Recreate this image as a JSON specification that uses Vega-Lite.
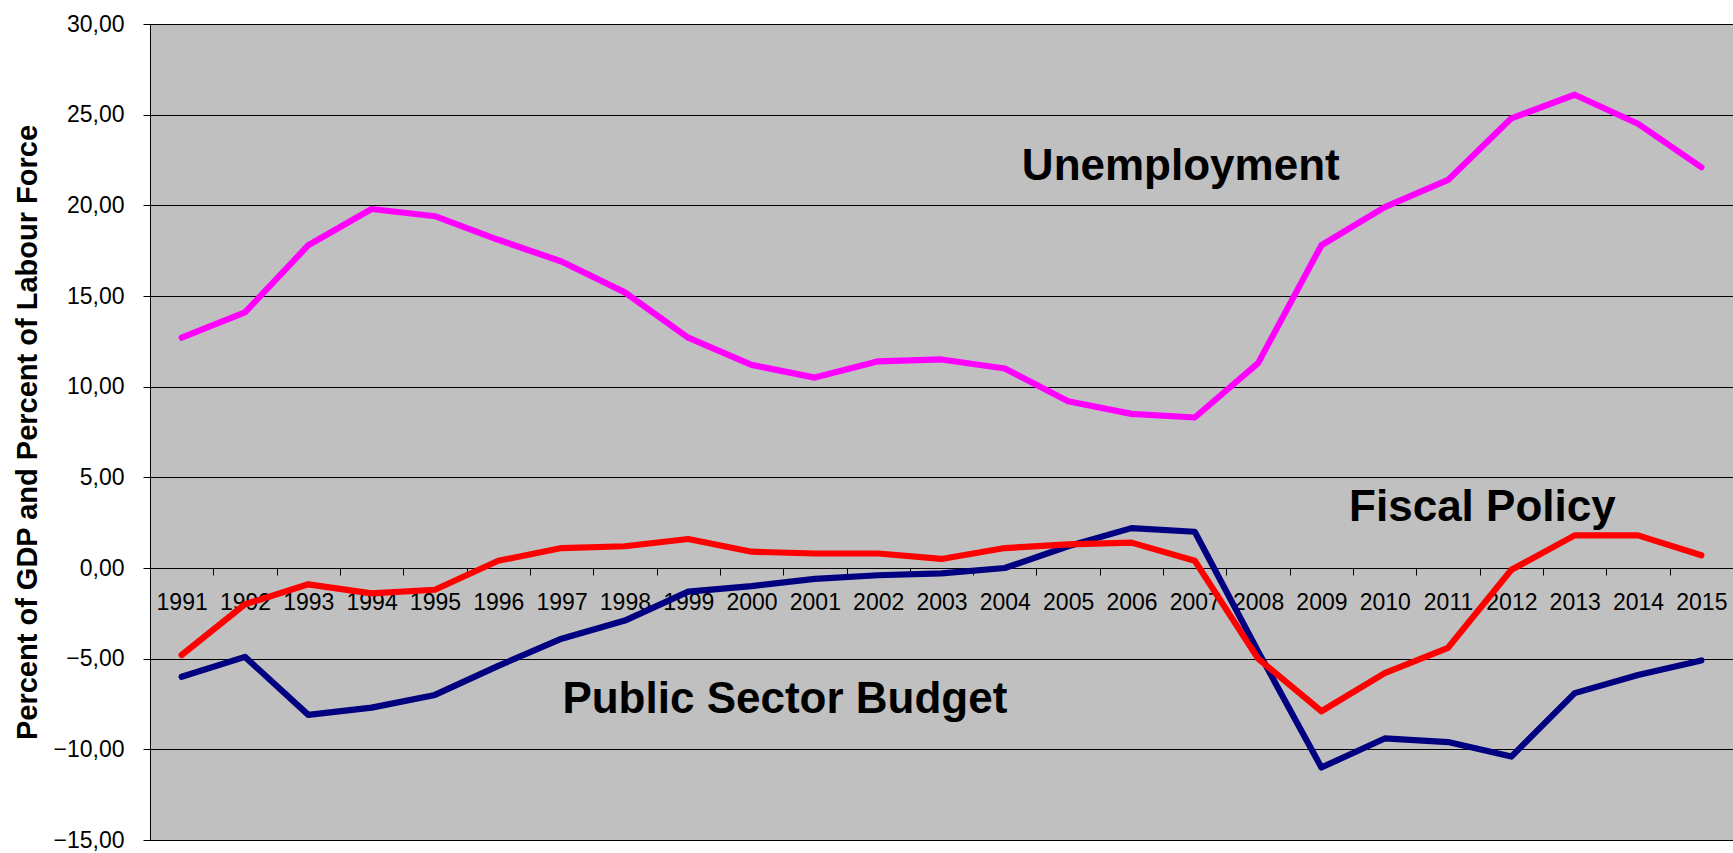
{
  "$schema": "https://vega.github.io/schema/vega-lite/v6.json",
  "width": 1583,
  "height": 816,
  "autosize": {"type": "none"},
  "padding": {"left": 150, "top": 24, "right": 0, "bottom": 13},
  "background": "white",
  "config": {
    "view": {"fill": "#c0c0c0", "stroke": "#808080", "strokeWidth": 1},
    "font": "Liberation Sans",
    "axis": {
      "labelFont": "Liberation Sans",
      "labelFontSize": 23,
      "labelColor": "#000000",
      "tickColor": "#000000",
      "domainColor": "#000000",
      "tickSize": 7,
      "titleFont": "Liberation Sans",
      "titleFontSize": 29,
      "titleFontWeight": "bold",
      "titleColor": "#000000"
    },
    "axisY": {
      "grid": true,
      "gridColor": "#000000",
      "gridWidth": 1,
      "gridOpacity": 1,
      "labelPadding": 19,
      "titlePadding": 11
    },
    "axisX": {"grid": false}
  },
  "datasets": {
    "series": [
      {"year": 1991, "unemployment": 12.7, "fiscal": -4.8, "budget": -6.0},
      {"year": 1992, "unemployment": 14.1, "fiscal": -2.0, "budget": -4.9},
      {"year": 1993, "unemployment": 17.8, "fiscal": -0.9, "budget": -8.1},
      {"year": 1994, "unemployment": 19.8, "fiscal": -1.4, "budget": -7.7},
      {"year": 1995, "unemployment": 19.4, "fiscal": -1.2, "budget": -7.0},
      {"year": 1996, "unemployment": 18.1, "fiscal": 0.4, "budget": -5.4},
      {"year": 1997, "unemployment": 16.9, "fiscal": 1.1, "budget": -3.9},
      {"year": 1998, "unemployment": 15.2, "fiscal": 1.2, "budget": -2.9},
      {"year": 1999, "unemployment": 12.7, "fiscal": 1.6, "budget": -1.3},
      {"year": 2000, "unemployment": 11.2, "fiscal": 0.9, "budget": -1.0},
      {"year": 2001, "unemployment": 10.5, "fiscal": 0.8, "budget": -0.6},
      {"year": 2002, "unemployment": 11.4, "fiscal": 0.8, "budget": -0.4},
      {"year": 2003, "unemployment": 11.5, "fiscal": 0.5, "budget": -0.3},
      {"year": 2004, "unemployment": 11.0, "fiscal": 1.1, "budget": 0.0},
      {"year": 2005, "unemployment": 9.2, "fiscal": 1.3, "budget": 1.2},
      {"year": 2006, "unemployment": 8.5, "fiscal": 1.4, "budget": 2.2},
      {"year": 2007, "unemployment": 8.3, "fiscal": 0.4, "budget": 2.0},
      {"year": 2008, "unemployment": 11.3, "fiscal": -5.0, "budget": -4.6},
      {"year": 2009, "unemployment": 17.8, "fiscal": -7.9, "budget": -11.0},
      {"year": 2010, "unemployment": 19.9, "fiscal": -5.8, "budget": -9.4},
      {"year": 2011, "unemployment": 21.4, "fiscal": -4.4, "budget": -9.6},
      {"year": 2012, "unemployment": 24.8, "fiscal": -0.1, "budget": -10.4},
      {"year": 2013, "unemployment": 26.1, "fiscal": 1.8, "budget": -6.9},
      {"year": 2014, "unemployment": 24.5, "fiscal": 1.8, "budget": -5.9},
      {"year": 2015, "unemployment": 22.1, "fiscal": 0.7, "budget": -5.1}
    ]
  },
  "encoding": {
    "x": {
      "field": "year",
      "type": "ordinal",
      "scale": {"type": "band", "paddingInner": 0, "paddingOuter": 0},
      "axis": {
        "title": null,
        "labelAngle": 0,
        "tickBand": "extent",
        "offset": {"expr": "scale('y', 0) - height"},
        "labelPadding": 16
      }
    }
  },
  "layer": [
    {
      "data": {"name": "series"},
      "mark": {"type": "line", "color": "#000080", "strokeWidth": 6.2, "strokeCap": "round", "strokeJoin": "round"},
      "encoding": {
        "y": {
          "field": "budget",
          "type": "quantitative",
          "title": "Percent of GDP and Percent of Labour Force",
          "scale": {"domain": [-15, 30], "nice": false, "zero": false},
          "axis": {
            "values": [-15, -10, -5, 0, 5, 10, 15, 20, 25, 30],
            "labelExpr": "replace(format(datum.value, '.2f'), '.', ',')"
          }
        }
      }
    },
    {
      "data": {"name": "series"},
      "mark": {"type": "line", "color": "#ff0000", "strokeWidth": 6.2, "strokeCap": "round", "strokeJoin": "round"},
      "encoding": {
        "y": {"field": "fiscal", "type": "quantitative", "title": "Percent of GDP and Percent of Labour Force"}
      }
    },
    {
      "data": {"name": "series"},
      "mark": {"type": "line", "color": "#ff00ff", "strokeWidth": 6.2, "strokeCap": "round", "strokeJoin": "round"},
      "encoding": {
        "y": {"field": "unemployment", "type": "quantitative", "title": "Percent of GDP and Percent of Labour Force"}
      }
    },
    {
      "data": {"values": [{"label": "Unemployment", "year": 2007, "value": 21.4}]},
      "mark": {"type": "text", "font": "Liberation Sans", "fontSize": 44, "fontWeight": "bold", "color": "#000000", "baseline": "alphabetic", "align": "center", "dx": -14},
      "encoding": {
        "text": {"field": "label"},
        "y": {"field": "value", "type": "quantitative", "title": "Percent of GDP and Percent of Labour Force"}
      }
    },
    {
      "data": {"values": [{"label": "Fiscal Policy", "year": 2012, "value": 2.57}]},
      "mark": {"type": "text", "font": "Liberation Sans", "fontSize": 44, "fontWeight": "bold", "color": "#000000", "baseline": "alphabetic", "align": "center", "dx": -29},
      "encoding": {
        "text": {"field": "label"},
        "y": {"field": "value", "type": "quantitative", "title": "Percent of GDP and Percent of Labour Force"}
      }
    },
    {
      "data": {"values": [{"label": "Public Sector Budget", "year": 2001, "value": -8.0}]},
      "mark": {"type": "text", "font": "Liberation Sans", "fontSize": 44, "fontWeight": "bold", "color": "#000000", "baseline": "alphabetic", "align": "center", "dx": -30},
      "encoding": {
        "text": {"field": "label"},
        "y": {"field": "value", "type": "quantitative", "title": "Percent of GDP and Percent of Labour Force"}
      }
    }
  ]
}
